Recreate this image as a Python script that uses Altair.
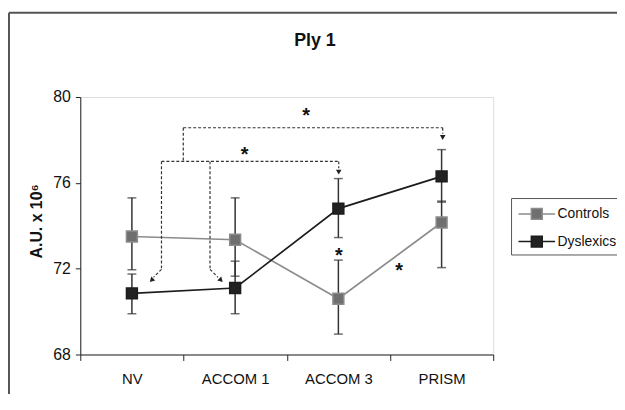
import altair as alt
import pandas as pd

categories = ["NV", "ACCOM 1", "ACCOM 3", "PRISM"]
groups = ["Controls", "Dyslexics"]
controls_mean = [73.5, 73.35, 70.6, 74.15]
controls_low = [71.95, 71.65, 68.95, 72.05]
controls_high = [75.3, 75.3, 72.4, 75.15]
dyslexics_mean = [70.85, 71.1, 74.8, 76.3]
dyslexics_low = [69.9, 69.9, 73.45, 75.1]
dyslexics_high = [71.75, 72.35, 76.2, 77.55]
y_ticks = [68, 72, 76, 80]

rows = []
for g, m, lo, hi in [("Controls", controls_mean, controls_low, controls_high),
                     ("Dyslexics", dyslexics_mean, dyslexics_low, dyslexics_high)]:
    for c, mv, lv, hv in zip(categories, m, lo, hi):
        rows.append({"group": g, "condition": c, "mean": mv, "low": lv, "high": hv})
df = pd.DataFrame(rows)

FONT = "Liberation Sans"
x_enc = alt.X("condition:N", sort=categories, title=None,
              scale=alt.Scale(type="band", paddingInner=0, paddingOuter=0),
              axis=alt.Axis(tickBand="extent", labelAngle=0, labelFontSize=15,
                            labelColor="#111", tickSize=6, labelPadding=11,
                            domainColor="#222", tickColor="#222", labelFont=FONT))
y_scale = alt.Scale(domain=[68, 80], nice=False, zero=False)
y_axis = alt.Axis(values=y_ticks, grid=False, labelFontSize=16, labelColor="#111",
                  tickSize=5, labelPadding=5, domainColor="#222", tickColor="#222",
                  title="A.U. x 10⁶", titleFontSize=16, titleFontWeight="bold",
                  titleColor="#111", titleX=-39, titleY=125, titleAngle=-90,
                  titleBaseline="alphabetic", labelFont=FONT, titleFont=FONT)

base = alt.Chart(df)

err = base.mark_rule(color="#333", strokeWidth=1.5).encode(
    x=x_enc, y=alt.Y("low:Q", scale=y_scale, axis=y_axis), y2="high:Q")
cap_lo = base.mark_tick(color="#333", size=9, thickness=1.5).encode(x=x_enc, y="low:Q")
cap_hi = base.mark_tick(color="#333", size=9, thickness=1.5).encode(x=x_enc, y="high:Q")

stroke_scale = alt.Scale(domain=groups, range=["#8c8c8c", "#1c1c1c"])
fill_scale = alt.Scale(domain=groups, range=["#6f6f6f", "#222222"])
legend_path = "M-1.68,0H-0.5M0.5,0H1.68M-0.5,-0.5H0.5V0.5H-0.5Z"
legend = alt.Legend(title=None, orient="none", legendX=435, legendY=102,
                    symbolType=legend_path, symbolSize=484,
                    symbolStrokeWidth=1.5, symbolOffset=10,
                    labelFontSize=14, labelFont=FONT, labelColor="#111",
                    labelOffset=9, rowPadding=7, padding=4,
                    strokeColor="#555", fillColor="white")

line = base.mark_line(strokeWidth=1.7).encode(
    x=x_enc, y=alt.Y("mean:Q"),
    stroke=alt.Stroke("group:N", scale=stroke_scale, legend=legend))

pts = base.mark_point(shape="square", filled=True, size=121, strokeWidth=1.5, opacity=1).encode(
    x=x_enc, y=alt.Y("mean:Q"),
    fill=alt.Fill("group:N", scale=fill_scale, legend=legend),
    stroke=alt.Stroke("group:N", scale=stroke_scale, legend=legend))

one = pd.DataFrame({"k": [0]})

def seg(x1, y1, x2, y2, dash=True, color="#333", width=1.2):
    kw = dict(color=color, strokeWidth=width)
    if dash:
        kw["strokeDash"] = [3, 2]
    return alt.Chart(one).mark_rule(**kw).encode(
        x=alt.value(x1), y=alt.value(y1), x2=alt.value(x2), y2=alt.value(y2))

def arrow(x, y, angle):
    return alt.Chart(one).mark_point(shape="triangle", filled=True, size=32, color="#222",
                                     opacity=1, angle=angle).encode(
        x=alt.value(x), y=alt.value(y))

def star(x, y):
    return alt.Chart(one).mark_text(text="*", fontSize=20, fontWeight="bold", font=FONT,
                                    baseline="alphabetic", color="#111").encode(
        x=alt.value(x), y=alt.value(y + 11))

title = alt.Chart(one).mark_text(text="Ply 1", fontSize=18, fontWeight="bold", font=FONT,
                                 baseline="alphabetic", align="center", color="#111").encode(
    x=alt.value(237), y=alt.value(-52))

annotations = [
    # outer bracket NV/ACCOM1 -> PRISM
    seg(104, 31, 366, 31), seg(104, 31, 104, 65), seg(366, 31, 366, 37), arrow(366, 40, 180),
    # inner bracket NV/ACCOM1 -> ACCOM3
    seg(82, 65, 261, 65), seg(261, 65, 261, 72), arrow(261, 75, 180),
    seg(82, 65, 82, 174), seg(82, 174, 74, 182), arrow(72.5, 184.5, 225),
    seg(131, 65, 131, 174), seg(131, 174, 139, 182), arrow(141.5, 184.5, 135),
    star(228, 14), star(166, 54), star(261, 156), star(322, 171),
    # outer frame
    seg(-72, -85, -72, 300, dash=False, color="#555", width=2),
    seg(-72, -85, 542, -85, dash=False, color="#555", width=2),
    title,
]

chart = alt.layer(err, cap_lo, cap_hi, line, pts, *annotations).properties(
    width=417, height=260,
    padding={"left": 73, "top": 88, "right": 125, "bottom": 40},
    autosize=alt.AutoSizeParams(type="none"),
).configure_view(stroke=None).configure(font=FONT)

chart.save("out.html", embed_options={"renderer": "svg", "actions": False})
